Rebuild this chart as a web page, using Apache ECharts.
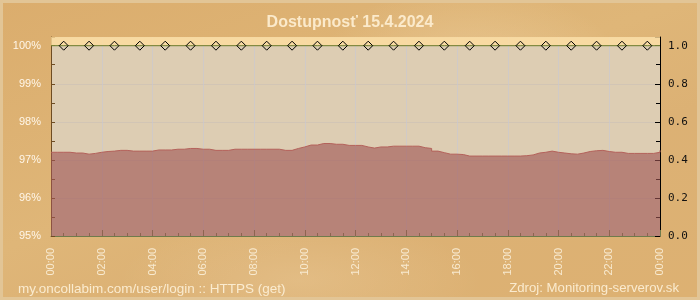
<!DOCTYPE html>
<html><head><meta charset="utf-8">
<script src="https://cdn.jsdelivr.net/npm/echarts@6/dist/echarts.min.js"></script>
<style>
html,body{margin:0;padding:0;background:#ddb274;}
#wrap{position:relative;width:700px;height:300px;overflow:hidden;
 background:
  radial-gradient(ellipse 220px 120px at 470px 70px, rgba(255,238,205,0.28), rgba(255,238,205,0) 70%),
  radial-gradient(ellipse 260px 90px at 300px 280px, rgba(255,238,205,0.18), rgba(255,238,205,0) 70%),
  linear-gradient(160deg,#dbad6d 0%,#dfb678 45%,#dcb174 65%,#ddb172 100%);
 box-shadow: inset 0 0 0 3px #e2c596;}
#chart{position:absolute;left:0;top:0;width:700px;height:300px;}
</style></head>
<body><div id="wrap"><div id="chart"></div></div>
<script>
// ---- data ----
const titleText = 'Dostupnosť 15.4.2024';
const footLeft = 'my.oncollabim.com/user/login :: HTTPS (get)';
const footRight = 'Zdroj: Monitoring-serverov.sk';
const stepMinutes = 15; // sample spacing of the availability series
const availability = [
  97.20, 97.20, 97.20, 97.18, 97.18, 97.15, 97.17, 97.20,   // 00:00-01:45
  97.22, 97.23, 97.25, 97.25, 97.23, 97.23, 97.23, 97.23,   // 02:00-03:45
  97.26, 97.26, 97.26, 97.28, 97.28, 97.30, 97.30, 97.28,   // 04:00-05:45
  97.28, 97.25, 97.25, 97.25, 97.28, 97.28, 97.28, 97.28,   // 06:00-07:45
  97.28, 97.28, 97.28, 97.28, 97.25, 97.25, 97.30, 97.34,   // 08:00-09:45
  97.39, 97.39, 97.43, 97.43, 97.41, 97.41, 97.38, 97.38,   // 10:00-11:45
  97.38, 97.34, 97.31, 97.34, 97.34, 97.36, 97.36, 97.36,   // 12:00-13:45
  97.36, 97.36, 97.32, 97.30, 97.23, 97.19, 97.15, 97.15,   // 14:00-15:45
  97.14, 97.10, 97.10, 97.10, 97.10, 97.10, 97.10, 97.10,   // 16:00-17:45
  97.10, 97.10, 97.11, 97.13, 97.18, 97.20, 97.23, 97.20,   // 18:00-19:45
  97.18, 97.16, 97.15, 97.18, 97.22, 97.24, 97.25, 97.22,   // 20:00-21:45
  97.20, 97.20, 97.17, 97.17, 97.17, 97.17, 97.17, 97.20,   // 22:00-23:45
  97.25                                                     // 24:00
];
const markerMinutes = [30, 90, 150, 210, 270, 330, 390, 450, 510, 570, 630, 690,
  750, 810, 870, 930, 990, 1050, 1110, 1170, 1230, 1290, 1350, 1410];
const markerValue = 1.0;
const dayMinutes = 1440;
const leftMin = 95, leftTop = 100, rightMin = 0, rightTop = 1.0;

// ---- build ----
const availData = availability.map((v, i) => [i * stepMinutes, v]);
const markerData = [{value: [0, markerValue], symbol: 'none'}]
  .concat(markerMinutes.map(m => ({value: [m, markerValue]})))
  .concat([{value: [dayMinutes, markerValue], symbol: 'none'}]);

// headroom above the top tick (plot extends ~8px above 100%)
const headFrac = 0.0457;
const leftMax = leftTop + (leftTop - leftMin) * headFrac;
const rightMax = rightTop + (rightTop - rightMin) * headFrac;

const font = "'Liberation Sans', Arial, sans-serif";
const chart = echarts.init(document.getElementById('chart'), null, {renderer: 'canvas'});
chart.setOption({
  backgroundColor: 'transparent',
  animation: false,
  title: [
    {text: titleText, left: 'center', top: 10,
     textStyle: {color: '#fbeacb', fontSize: 16, fontWeight: 'bold', fontFamily: font}},
    {text: footLeft, left: 13, top: 277,
     textStyle: {color: 'rgba(255,244,222,0.85)', fontSize: 13.5, fontWeight: 'normal', fontFamily: font}},
    {text: footRight, right: 16, top: 277,
     textStyle: {color: 'rgba(255,244,222,0.85)', fontSize: 13.2, fontWeight: 'normal', fontFamily: font}}
  ],
  grid: {left: 51, right: 40, top: 37, bottom: 64, show: true, backgroundColor: '#ddcdb3', borderWidth: 0},
  xAxis: {
    type: 'value', min: 0, max: dayMinutes, interval: 120,
    axisLine: {show: true, lineStyle: {color: '#6f7b4c', width: 1}},
    axisTick: {show: true, inside: true, length: 6, lineStyle: {color: '#6f7b4c'}},
    minorTick: {show: true, splitNumber: 4, length: 3, lineStyle: {color: '#6f7b4c'}},
    splitLine: {show: true, lineStyle: {color: 'rgba(200,200,212,0.6)', width: 1}},
    axisLabel: {rotate: 90, margin: 12, color: '#f8ead0', fontSize: 11, fontFamily: font,
      formatter: v => { const h = Math.round(v / 60) % 24; return (h < 10 ? '0' : '') + h + ':00'; }}
  },
  yAxis: [
    {type: 'value', min: leftMin, max: leftMax, interval: 1, position: 'left',
     axisLine: {show: true, lineStyle: {color: '#6e4c22', width: 1}},
     axisTick: {show: true, inside: true, length: 4, lineStyle: {color: '#6e4c22'}},
     minorTick: {show: true, splitNumber: 2, length: 4, lineStyle: {color: '#6e4c22'}},
     splitLine: {show: true, lineStyle: {color: 'rgba(175,170,190,0.22)'}},
     axisLabel: {color: '#fff6e8', fontSize: 11, fontFamily: font, margin: 10,
       formatter: v => Math.abs(v - Math.round(v)) < 1e-6 ? Math.round(v) + '%' : ''}},
    {type: 'value', min: rightMin, max: rightMax, interval: 0.2, position: 'right',
     axisLine: {show: true, lineStyle: {color: '#000', width: 1}},
     axisTick: {show: true, inside: true, length: 5, lineStyle: {color: '#000'}},
     minorTick: {show: true, splitNumber: 2, length: 4, lineStyle: {color: '#000'}},
     splitLine: {show: false},
     axisLabel: {color: '#111', fontSize: 11, fontFamily: "'DejaVu Sans Mono', monospace", margin: 8,
       formatter: v => Math.abs(v * 5 - Math.round(v * 5)) < 1e-6 ? v.toFixed(1) : ''}}
  ],
  series: [
    {type: 'line', yAxisIndex: 0, data: availData, step: 'end', symbol: 'none',
     lineStyle: {color: '#b4625b', width: 1},
     areaStyle: {color: 'rgba(160,85,84,0.62)', opacity: 1, origin: 'start'},
     markArea: {silent: true, itemStyle: {color: 'rgba(255,221,158,0.8)'},
       data: [[{yAxis: leftTop}, {yAxis: leftMax}]]},
     z: 2},
    {type: 'line', yAxisIndex: 1, data: markerData, symbol: 'diamond', symbolSize: 9,
     showAllSymbol: true,
     lineStyle: {color: '#6b7a2c', width: 1},
     itemStyle: {color: 'rgba(0,0,0,0)', borderColor: '#000', borderWidth: 1},
     z: 3}
  ]
});
</script></body></html>
